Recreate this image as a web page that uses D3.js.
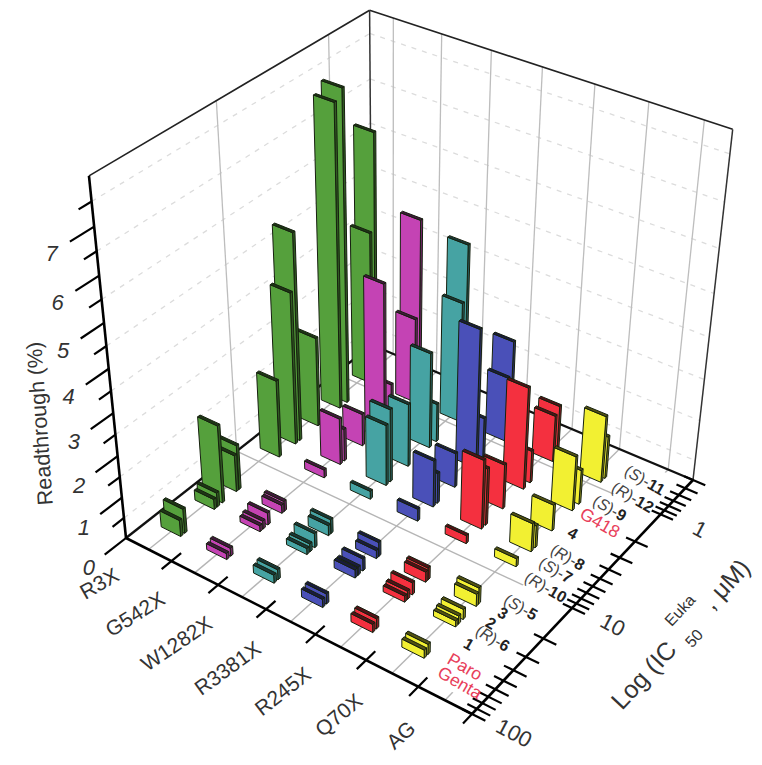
<!DOCTYPE html>
<html>
<head>
<meta charset="utf-8">
<script src="https://cdn.jsdelivr.net/npm/d3@7"></script>
<style>
  body { margin: 0; background: #fff; }
  text { font-family: "Liberation Sans", Arial, sans-serif; }
</style>
</head>
<body>
<div id="chart"></div>
<script>
// mutations, in row order along the front axis (AG row holds only the compound names)
var rows = ["R3X", "G542X", "W1282X", "R3381X", "R245X", "Q70X", "AG"];
var rowColors = ["#55a03c", "#c443b4", "#46a3a3", "#4a50b8", "#f4303f", "#f2f032"];

var compounds = ["Genta", "Paro", "1", "(R)-6", "2", "3", "(S)-5", "(R)-10", "(S)-7", "(R)-8", "4", "G418", "(S)-9", "(R)-12", "(S)-11"];
var ic50 = [64, 59, 32, 30, 27, 20, 19, 7.8, 5.4, 4.9, 3.2, 1.9, 1.6, 0.89, 0.8];

// readthrough (%), same order as compounds
var valR3X = [0.4, 0.6, 0.25, 0.35, 1.9, 0.9, 1.1, 1.9, 3.7, 5.0, 2.2, 7.2, 7.4, 3.75, 6.0];
var valG542X = [0.15, 0.2, 0.15, 0.2, 0.3, 0.2, 0.25, 0.2, 1.15, 0.8, 0.8, 3.55, 0.95, 2.1, 4.4];
var valW1282X = [0.2, 0.25, 0.15, 0.2, 0.35, 0.25, 0.35, 0.2, 1.5, 1.8, 1.55, 2.35, 0.95, 2.95, 4.25];
var valR3381X = [0.2, 0.25, 0.2, 0.2, 0.3, 0.2, 0.35, 0.3, 1.15, 0.75, 0.85, 3.4, 1.1, 1.6, 2.4];
var valR245X = [0.2, 0.25, 0.15, 0.2, 0.3, 0.25, 0.3, 0.2, 1.7, 1.4, 1.1, 2.5, 0.8, 1.15, 1.3];
var valQ70X = [0.2, 0.25, 0.15, 0.2, 0.25, 0.3, 0.4, 0.2, 0.7, 0.55, 0.65, 1.35, 0.85, 1.65, 1.05];
var series = [valR3X, valG542X, valW1282X, valR3381X, valR245X, valQ70X];

var zTicks = [0, 1, 2, 3, 4, 5, 6, 7];
var zDashes = [0.5, 1.5, 2.5, 3.5, 4.5, 5.5, 6.5, 7.5];
var icLabels = [100, 10, 1];
var icTicks = [100, 90, 80, 70, 60, 50, 40, 30, 20, 10, 9, 8, 7, 6, 5, 4, 3, 2, 1, 0.9, 0.8, 0.7, 0.6, 0.5, 0.4];

var width = 762, height = 765;

// box corners on screen (floor), the rest comes from the perspective below
var A = [126, 538], B = [472, 714], C = [693, 480], D = [372, 345];
var V = [392, 3139]; // vanishing point of the vertical edges
var kz = -0.1222;    // strength of the vertical perspective at z = max

// floor homography, unit square -> A B C D
var dx1 = B[0] - C[0], dx2 = D[0] - C[0], sx = A[0] - B[0] + C[0] - D[0];
var dy1 = B[1] - C[1], dy2 = D[1] - C[1], sy = A[1] - B[1] + C[1] - D[1];
var det = dx1 * dy2 - dx2 * dy1;
var hg = (sx * dy2 - dx2 * sy) / det, hh = (dx1 * sy - sx * dy1) / det;
var ha = B[0] - A[0] + hg * B[0], hb = D[0] - A[0] + hh * D[0];
var hd = B[1] - A[1] + hg * B[1], he = D[1] - A[1] + hh * D[1];

// s: along the mutation axis, u: along the IC50 axis, z: height scale value 0..1
function project(s, u, z) {
  var w = hg * s + hh * u + 1;
  var px = ha * s + hb * u + A[0];
  var py = hd * s + he * u + A[1];
  var zk = (z || 0) * kz;
  return [(px + zk * V[0]) / (w + zk), (py + zk * V[1]) / (w + zk)];
}

var sScale = d3.scaleBand().domain(rows).range([0, 1]);
var uScale = d3.scaleLog().domain([100, 0.4]).range([0, 1]);
var zScale = d3.scaleLinear().domain([0, 8]).range([0, 1]);
var rowMid = function (r) { return sScale(r) + sScale.bandwidth() / 2; };

var svg = d3.select("#chart").append("svg")
    .attr("width", width)
    .attr("height", height);

var path = d3.line();

function seg(g, p, q, color, w, dash) {
  g.append("path")
    .attr("d", path([p, q]))
    .attr("fill", "none")
    .attr("stroke", color)
    .attr("stroke-width", w)
    .attr("stroke-dasharray", dash || null);
}

// walls
var walls = svg.append("g");
zDashes.forEach(function (v) {
  var z = zScale(v);
  seg(walls, project(0, 0, z), project(0, 1, z), "#dcdcdc", 1.3, "5 6");
  seg(walls, project(0, 1, z), project(1, 1, z), "#dcdcdc", 1.3, "5 6");
});
rows.forEach(function (r) {
  seg(walls, project(rowMid(r), 1, 0), project(rowMid(r), 1, 1), "#bdbdbd", 1.3);
});
[10, 1].forEach(function (v) {
  seg(walls, project(0, uScale(v), 0), project(0, uScale(v), 1), "#bdbdbd", 1.3);
});

// floor grid
var floor = svg.append("g");
rows.forEach(function (r) {
  seg(floor, project(rowMid(r), 0), project(rowMid(r), 1), "#b5b5b5", 1.4);
});
[10, 1].forEach(function (v) {
  seg(floor, project(0, uScale(v)), project(1, uScale(v)), "#b5b5b5", 1.4);
});
// compound names sit on a cleared strip of the floor
floor.append("path")
    .attr("d", path([project(0.865, 0.03), project(0.985, 0.03), project(0.985, 0.985), project(0.865, 0.985)]) + "Z")
    .attr("fill", "#fff");

// box edges
seg(floor, project(0, 0), project(0, 1), "#111", 2.4);
seg(floor, project(0, 1), project(1, 1), "#111", 2.4);
seg(walls, project(0, 0, 1), project(0, 1, 1), "#222", 1.6);
seg(walls, project(0, 1, 1), project(1, 1, 1), "#222", 1.6);
seg(walls, project(0, 1), project(0, 1, 1), "#333", 1.5);
seg(walls, project(1, 1), project(1, 1, 1), "#333", 1.5);

// bars, painted back to front
var barW = 0.43 * sScale.bandwidth(), barD = 0.009;
var barData = [];
rows.slice(0, 6).forEach(function (r, i) {
  var list = compounds.map(function (c, j) {
    return { row: r, color: rowColors[i], ic: ic50[j], val: series[i][j] };
  });
  list.sort(function (a, b) { return a.ic - b.ic; });
  barData = barData.concat(list);
});

var bars = svg.append("g").selectAll("g.bar")
    .data(barData)
  .enter().append("g")
    .attr("class", "bar")
    .attr("stroke", "#16200f")
    .attr("stroke-width", 1)
    .attr("stroke-linejoin", "round");

function barPoints(d) {
  var s0 = rowMid(d.row) - barW / 2, s1 = s0 + barW;
  var u0 = uScale(d.ic), u1 = u0 + barD, z = zScale(d.val);
  return { s0: s0, s1: s1, u0: u0, u1: u1, z: z };
}

bars.append("path")
    .attr("fill", function (d) { return d3.color(d.color).darker(1.6); })
    .attr("d", function (d) {
      var b = barPoints(d);
      return path([project(b.s1, b.u0, 0), project(b.s1, b.u1, 0), project(b.s1, b.u1, b.z), project(b.s1, b.u0, b.z)]) + "Z";
    });
bars.append("path")
    .attr("fill", function (d) { return d.color; })
    .attr("d", function (d) {
      var b = barPoints(d);
      return path([project(b.s0, b.u0, 0), project(b.s1, b.u0, 0), project(b.s1, b.u0, b.z), project(b.s0, b.u0, b.z)]) + "Z";
    });
bars.append("path")
    .attr("fill", function (d) { return d3.color(d.color).darker(3); })
    .attr("d", function (d) {
      var b = barPoints(d);
      return path([project(b.s0, b.u0, b.z), project(b.s1, b.u0, b.z), project(b.s1, b.u1, b.z), project(b.s0, b.u1, b.z)]) + "Z";
    });

// axes in front
var axes = svg.append("g");
seg(axes, project(0, 0), project(1, 0), "#000", 2.6);
seg(axes, project(1, 0), project(1, 1), "#000", 2.6);
seg(axes, project(0, 0), project(0, 0, 1), "#000", 2.6);

d3.range(1, 8).forEach(function (i) {
  var s = i / 7;
  seg(axes, project(s, -0.035), project(s, i === 7 ? 0 : 0.035), "#000", 2.2);
});
icTicks.forEach(function (v) {
  seg(axes, project(0.975, uScale(v)), project(1.035, uScale(v)), "#000", 2.2);
});
zTicks.forEach(function (v) {
  seg(axes, project(0, 0, zScale(v)), project(0, -0.075, zScale(v)), "#000", 2.2);
});
zDashes.forEach(function (v) {
  seg(axes, project(0, 0, zScale(v)), project(0, -0.04, zScale(v)), "#000", 2.2);
});

// axis text
var labels = svg.append("g").attr("fill", "#333");

rows.forEach(function (r, i) {
  var p = project(rowMid(r), 0);
  labels.append("text")
      .attr("transform", "translate(" + (p[0] - 28) + "," + (p[1] + 30) + ") rotate(" + (-30 - i * 2) + ")")
      .attr("text-anchor", "end")
      .style("font-size", "21px")
      .text(r);
});

zTicks.forEach(function (v) {
  var p = project(0, -0.13, zScale(v));
  labels.append("text")
      .attr("x", p[0])
      .attr("y", p[1] + 8)
      .attr("text-anchor", "middle")
      .style("font-size", "22px")
      .style("font-style", "italic")
      .text(v);
});

icLabels.forEach(function (v) {
  var p = project(1.1, uScale(v));
  labels.append("text")
      .attr("transform", "translate(" + p[0] + "," + (p[1] + 6) + ") rotate(28)")
      .attr("text-anchor", "middle")
      .style("font-size", "22px")
      .text(v);
});

labels.append("text")
    .attr("transform", "translate(47,423) rotate(-94)")
    .attr("text-anchor", "middle")
    .style("font-size", "21.5px")
    .text("Readthrough (%)");

var logTitle = [
  { text: "Log (IC", x: 650, y: 681, size: 25 },
  { text: "50", x: 698, y: 642, size: 16 },
  { text: "Euka", x: 684, y: 614, size: 16 },
  { text: ", \u03bcM)", x: 732, y: 590, size: 25 }
];
logTitle.forEach(function (t) {
  labels.append("text")
      .attr("transform", "translate(" + t.x + "," + t.y + ") rotate(-47)")
      .attr("text-anchor", "middle")
      .style("font-size", t.size + "px")
      .text(t.text);
});

// compound names on the floor
var nameSpots = {
  "Genta": [457, 688], "Paro": [462, 672], "1": [466, 649], "(R)-6": [490, 643], "2": [488, 628],
  "3": [500, 618], "(S)-5": [518, 612], "(R)-10": [543, 592], "(S)-7": [553, 575], "(R)-8": [565, 562],
  "4": [570, 538], "G418": [597, 528], "(S)-9": [607, 513], "(R)-12": [630, 502], "(S)-11": [642, 485]
};
compounds.forEach(function (c) {
  var spot = nameSpots[c];
  var t = svg.append("text")
      .attr("transform", "translate(" + spot[0] + "," + spot[1] + ") rotate(30)")
      .attr("text-anchor", "middle")
      .style("font-size", "16px");
  var m = c.match(/^\((.)\)-(\d+)$/);
  if (m) {
    t.attr("fill", "#444");
    t.append("tspan").text("(");
    t.append("tspan").style("font-style", "italic").text(m[1]);
    t.append("tspan").text(")-");
    t.append("tspan").style("font-weight", "bold").attr("fill", "#222").text(m[2]);
  } else if (/^\d+$/.test(c)) {
    t.attr("fill", "#222").style("font-weight", "bold").text(c);
  } else {
    t.attr("fill", "#e8405a").style("font-size", "17.5px").text(c);
  }
});
</script>
</body>
</html>
